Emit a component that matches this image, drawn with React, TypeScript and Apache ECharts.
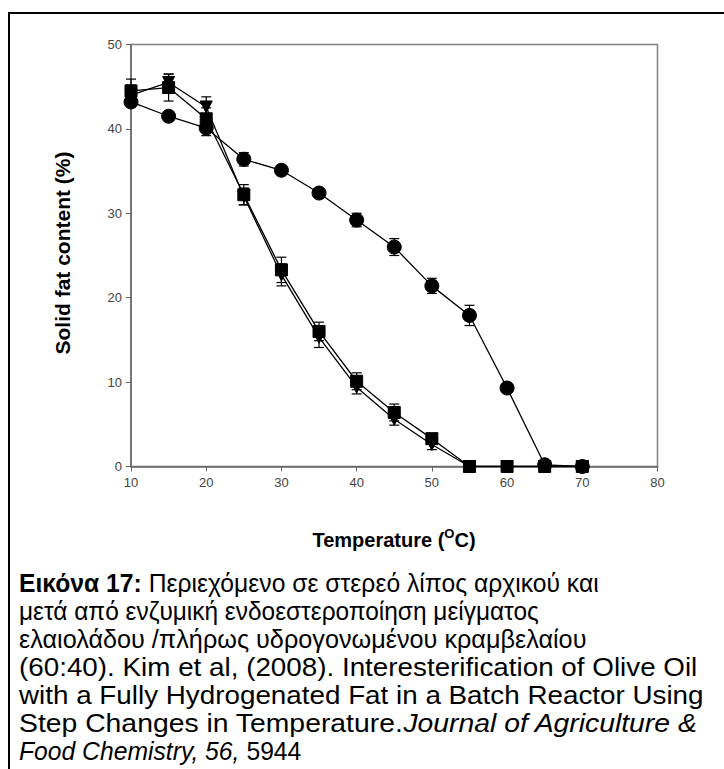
import React, { useEffect, useRef } from "react";
import * as echarts from "echarts";

const temps = [10, 15, 20, 25, 30, 35, 40, 45, 50, 55, 60, 65, 70];
const circleVals = [43.2, 41.5, 40.1, 36.4, 35.1, 32.4, 29.2, 26.0, 21.4, 17.9, 9.3, 0.2, 0];
const circleErr = [0.6, 0.3, 0.9, 0.8, 0.4, 0.5, 0.8, 1.0, 0.9, 1.2, 0.3, 0.3, 0.2];
const squareVals = [44.5, 44.9, 41.2, 32.2, 23.3, 16.0, 10.1, 6.4, 3.3, 0, 0, 0, 0];
const squareErr = [1.4, 1.6, 1.3, 1.2, 1.5, 1.1, 1.0, 1.0, 0.6, 0, 0, 0, 0];
const triVals = [44.0, 45.5, 42.6, 32.0, 22.7, 15.3, 9.4, 5.6, 2.6, 0, 0, 0, 0];
const triErr = [1.2, 1.0, 1.2, 1.0, 1.3, 1.2, 0.8, 0.7, 0.6, 0, 0, 0, 0];

const xTicks = [10, 20, 30, 40, 50, 60, 70, 80];
const yTicks = [0, 10, 20, 30, 40, 50];

const xTitle = ["Temperature (", "O", "C)"];
const yTitle = "Solid fat content (%)";
const captionLines = [
  "{b|Εικόνα 17:} Περιεχόμενο σε στερεό λίπος αρχικού και",
  "μετά από ενζυμική ενδοεστεροποίηση μείγματος",
  "ελαιολάδου /πλήρως υδρογονωμένου κραμβελαίου",
  "(60:40). Kim et al, (2008). Interesterification of Olive Oil",
  "with a Fully Hydrogenated Fat in a Batch Reactor Using",
  "Step Changes in Temperature.{i|Journal of Agriculture &}",
  "{i|Food Chemistry, 56,} 5944",
];
const captionStretch = [0.95, 0.94, 0.97, 1.07, 1.07, 1.09, 0.95];

const FONT = "'Liberation Sans', Arial, Helvetica, sans-serif";

function errData(vals: number[], errs: number[]) {
  return temps
    .map((t, i) => [t, vals[i] - errs[i], vals[i] + errs[i]])
    .filter((d, i) => errs[i] > 0);
}

function errSeries(vals: number[], errs: number[]) {
  return {
    type: "custom",
    data: errData(vals, errs),
    z: 1,
    renderItem: (params: any, api: any) => {
      const x = api.value(0);
      const lo = api.coord([x, api.value(1)]);
      const hi = api.coord([x, api.value(2)]);
      const hw = 5;
      const st = { stroke: "#000", lineWidth: 1.2 };
      return {
        type: "group",
        children: [
          { type: "line", shape: { x1: lo[0], y1: lo[1], x2: hi[0], y2: hi[1] }, style: st },
          { type: "line", shape: { x1: lo[0] - hw, y1: lo[1], x2: lo[0] + hw, y2: lo[1] }, style: st },
          { type: "line", shape: { x1: hi[0] - hw, y1: hi[1], x2: hi[0] + hw, y2: hi[1] }, style: st },
        ],
      };
    },
  };
}

function lineSeries(vals: number[], symbol: string, size: number, rotate = 0) {
  return {
    type: "line",
    data: temps.map((t, i) => [t, vals[i]]),
    symbol,
    symbolSize: size,
    symbolRotate: rotate,
    showAllSymbol: true,
    z: 3,
    lineStyle: { color: "#000", width: 1.3 },
    itemStyle: { color: "#000", borderColor: "#000" },
  };
}

export default function App() {
  const ref = useRef<HTMLDivElement>(null);
  useEffect(() => {
    if (!ref.current) return;
    const chart = echarts.init(ref.current, null, { renderer: "svg" });
    const capX = 19;
    const capY0 = 583;
    const capDy = 28;
    chart.setOption({
      animation: false,
      backgroundColor: "#fff",
      grid: {
        left: 131,
        right: 66.5,
        top: 44.5,
        bottom: 302.5,
        show: true,
        borderColor: "#808080",
        borderWidth: 1.5,
      },
      xAxis: {
        type: "value",
        min: 10,
        max: 80,
        interval: 10,
        axisLine: { show: true, lineStyle: { color: "#666", width: 1.5 } },
        axisTick: { show: true, length: 5, lineStyle: { color: "#666" } },
        splitLine: { show: false },
        axisLabel: {
          color: "#444",
          fontSize: 13,
          fontFamily: FONT,
          margin: 9,
          formatter: (v: number) => (xTicks.includes(v) ? String(v) : ""),
        },
      },
      yAxis: {
        type: "value",
        min: 0,
        max: 50,
        interval: 10,
        axisLine: { show: true, lineStyle: { color: "#666", width: 1.5 } },
        axisTick: { show: true, length: 5, lineStyle: { color: "#666" } },
        splitLine: { show: false },
        axisLabel: {
          color: "#444",
          fontSize: 13,
          fontFamily: FONT,
          margin: 9,
          formatter: (v: number) => (yTicks.includes(v) ? String(v) : ""),
        },
      },
      graphic: [
        {
          type: "rect",
          shape: { x: 9, y: 13, width: 800, height: 800 },
          style: { fill: "none", stroke: "#000", lineWidth: 2 },
          silent: true,
        },
        {
          type: "text",
          x: 394,
          y: 540,
          style: {
            text: `{t|${xTitle[0]}}{s|${xTitle[1]}}{t|${xTitle[2]}}`,
            align: "center",
            verticalAlign: "middle",
            rich: {
              t: { fontSize: 20, fontWeight: "bold", fontFamily: FONT, fill: "#000", lineHeight: 26 },
              s: { fontSize: 13, fontWeight: "bold", fontFamily: FONT, fill: "#000", verticalAlign: "top", lineHeight: 14 },
            },
          },
        },
        {
          type: "text",
          x: 62,
          y: 253,
          rotation: Math.PI / 2,
          style: {
            text: yTitle,
            align: "center",
            verticalAlign: "middle",
            fontSize: 21,
            fontWeight: "bold",
            fontFamily: FONT,
            fill: "#000",
          },
        },
        ...captionLines.map((line, i) => ({
          type: "text",
          x: capX,
          y: capY0 + i * capDy,
          scaleX: captionStretch[i],
          style: {
            text: line,
            align: "left",
            verticalAlign: "middle",
            fontSize: 26,
            fontFamily: FONT,
            fill: "#000",
            rich: {
              b: { fontSize: 26, fontWeight: "bold", fontFamily: FONT, fill: "#000" },
              i: { fontSize: 26, fontStyle: "italic", fontFamily: FONT, fill: "#000" },
            },
          },
        })),
      ],
      series: [
        errSeries(circleVals, circleErr),
        errSeries(squareVals, squareErr),
        errSeries(triVals, triErr),
        lineSeries(triVals, "triangle", 12, 180),
        lineSeries(squareVals, "rect", 12),
        lineSeries(circleVals, "circle", 14),
      ],
    });
    return () => chart.dispose();
  }, []);
  return (
    <div
      ref={ref}
      style={{ position: "absolute", left: 0, top: 0, width: 724, height: 769 }}
    />
  );
}
